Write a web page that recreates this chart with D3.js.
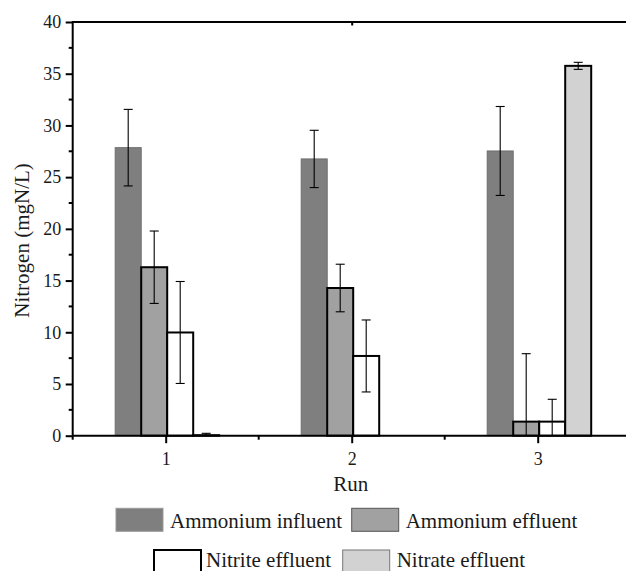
<!DOCTYPE html>
<html><head><meta charset="utf-8">
<script src="https://cdn.jsdelivr.net/npm/d3@7"></script>
<style>body{margin:0;background:#fff}svg{display:block}svg text{font-family:"Liberation Serif","Tinos","Times New Roman","Noto Serif","DejaVu Serif",serif !important;fill:#1a1a1a}</style>
</head><body><div id="chart"></div>
<script>
const runs = [1, 2, 3];
const seriesNames = ["Ammonium influent", "Ammonium effluent", "Nitrite effluent", "Nitrate effluent"];
const ammoniumInfluent = [27.85, 26.76, 27.53];
const ammoniumInfluentErr = [3.7, 2.77, 4.3];
const ammoniumEffluent = [16.29, 14.28, 1.36];
const ammoniumEffluentErr = [3.5, 2.3, 6.57];
const nitriteEffluent = [9.98, 7.71, 1.36];
const nitriteEffluentErr = [4.93, 3.48, 2.16];
const nitrateEffluent = [0.05, 0, 35.76];
const nitrateEffluentErr = [0.18, 0, 0.34];
const yTicks = [0, 5, 10, 15, 20, 25, 30, 35, 40];

const FONT = '"Liberation Serif","Tinos","Times New Roman","Noto Serif","DejaVu Serif",serif';
const W = 626, H = 571;
const svg = d3.select("#chart").append("svg").attr("width", W).attr("height", H)
  .attr("font-family", FONT);

const x = d3.scaleLinear().domain([0.5, 3.5]).range([72.7, 630.7]);
const y = d3.scaleLinear().domain([0, 40]).range([435.7, 22]);
const inner = d3.scaleBand().domain(seriesNames).range([-50.5, 53.5]).padding(0);

const styles = {
  "Ammonium influent": {fill: "#7f7f7f", stroke: "#6e6e6e", sw: 1, lstroke: "#9a9a9a", lsw: 1},
  "Ammonium effluent": {fill: "#a0a1a0", stroke: "#000", sw: 2, lstroke: "#555", lsw: 1},
  "Nitrite effluent": {fill: "#ffffff", stroke: "#000", sw: 2, lstroke: "#000", lsw: 2},
  "Nitrate effluent": {fill: "#d1d2d1", stroke: "#000", sw: 2, lstroke: "#777", lsw: 1}
};
const vals = [ammoniumInfluent, ammoniumEffluent, nitriteEffluent, nitrateEffluent];
const errs = [ammoniumInfluentErr, ammoniumEffluentErr, nitriteEffluentErr, nitrateEffluentErr];

const data = [];
runs.forEach((r, i) => seriesNames.forEach((s, j) => data.push({run: r, series: s, v: vals[j][i], e: errs[j][i]})));

// bars
const gBars = svg.append("g");
gBars.selectAll("rect").data(data.filter(d => d.v > 0)).join("rect")
  .attr("x", d => x(d.run) + inner(d.series))
  .attr("width", inner.bandwidth())
  .attr("y", d => y(d.v))
  .attr("height", d => y(0) - y(d.v))
  .attr("fill", d => styles[d.series].fill)
  .attr("stroke", d => styles[d.series].stroke)
  .attr("stroke-width", d => styles[d.series].sw);

// error bars
const gErr = svg.append("g").attr("stroke", "#000").attr("stroke-width", 1.1);
data.filter(d => d.e > 0).forEach(d => {
  const cx = x(d.run) + inner(d.series) + inner.bandwidth() / 2;
  const hi = d.v + d.e, lo = Math.max(0, d.v - d.e);
  gErr.append("line").attr("x1", cx).attr("x2", cx).attr("y1", y(hi)).attr("y2", y(lo));
  gErr.append("line").attr("x1", cx - 4.5).attr("x2", cx + 4.5).attr("y1", y(hi)).attr("y2", y(hi));
  if (d.v - d.e > 0) gErr.append("line").attr("x1", cx - 4.5).attr("x2", cx + 4.5).attr("y1", y(lo)).attr("y2", y(lo));
});

// axes
const axisW = 2;
const yAxis = svg.append("g").attr("transform", `translate(${x(0.5)},0)`)
  .call(d3.axisLeft(y).tickValues(yTicks).tickSize(7).tickPadding(4.5).tickFormat(d3.format("d")));
yAxis.attr("font-family", FONT);
yAxis.select(".domain").attr("stroke-width", axisW).attr("d", `M0,${y(0)}V${y(40)}`);
yAxis.selectAll(".tick line").attr("stroke-width", axisW);
yAxis.selectAll(".tick text").attr("font-size", 18).attr("fill", "#1a1a1a");
const yMinor = d3.range(2.5, 40, 5);
svg.append("g").selectAll("line").data(yMinor).join("line")
  .attr("x1", x(0.5) - 4).attr("x2", x(0.5)).attr("y1", d => y(d)).attr("y2", d => y(d))
  .attr("stroke", "#000").attr("stroke-width", axisW);

const xAxis = svg.append("g").attr("transform", `translate(0,${y(0)})`)
  .call(d3.axisBottom(x).tickValues(runs).tickSize(7.5).tickPadding(9).tickFormat(d3.format("d")));
xAxis.attr("font-family", FONT);
xAxis.select(".domain").attr("stroke-width", axisW).attr("d", `M${x(0.5)},0H${W}`);
xAxis.selectAll(".tick line").attr("stroke-width", axisW);
xAxis.selectAll(".tick text").attr("font-size", 18).attr("fill", "#1a1a1a");
const xMinor = [0.5, 1.5, 2.5];
svg.append("g").selectAll("line").data(xMinor).join("line")
  .attr("x1", d => x(d)).attr("x2", d => x(d)).attr("y1", y(0)).attr("y2", y(0) + 4)
  .attr("stroke", "#000").attr("stroke-width", axisW);

const topAxis = svg.append("g").attr("transform", `translate(0,${y(40)})`)
  .call(d3.axisTop(x).tickValues([2]).tickSize(-3.5).tickFormat(""));
topAxis.select(".domain").attr("stroke-width", axisW).attr("d", `M${x(0.5) - 1},0H${W}`);
topAxis.selectAll(".tick line").attr("stroke-width", axisW);

svg.append("text").attr("transform", `translate(28.5,${240.5}) rotate(-90)`)
  .attr("text-anchor", "middle").attr("font-size", 21).text("Nitrogen (mgN/L)");
svg.append("text").attr("x", 350.7).attr("y", 490.7).attr("text-anchor", "middle")
  .attr("font-size", 21).text("Run");

const legendItems = [
  {name: "Ammonium influent", sx: 116, sy: 508.3, tx: 170, ty: 528.3},
  {name: "Ammonium effluent", sx: 351.7, sy: 508.3, tx: 405.7, ty: 528.3},
  {name: "Nitrite effluent", sx: 154, sy: 550, tx: 206, ty: 566.7},
  {name: "Nitrate effluent", sx: 342.7, sy: 550, tx: 396.7, ty: 566.7}
];
const gLeg = svg.append("g");
legendItems.forEach(it => {
  const st = styles[it.name];
  gLeg.append("rect").attr("x", it.sx).attr("y", it.sy).attr("width", 47).attr("height", 23)
    .attr("fill", st.fill).attr("stroke", st.lstroke).attr("stroke-width", st.lsw);
  gLeg.append("text").attr("x", it.tx).attr("y", it.ty).attr("font-size", 21).text(it.name);
});
</script></body></html>
